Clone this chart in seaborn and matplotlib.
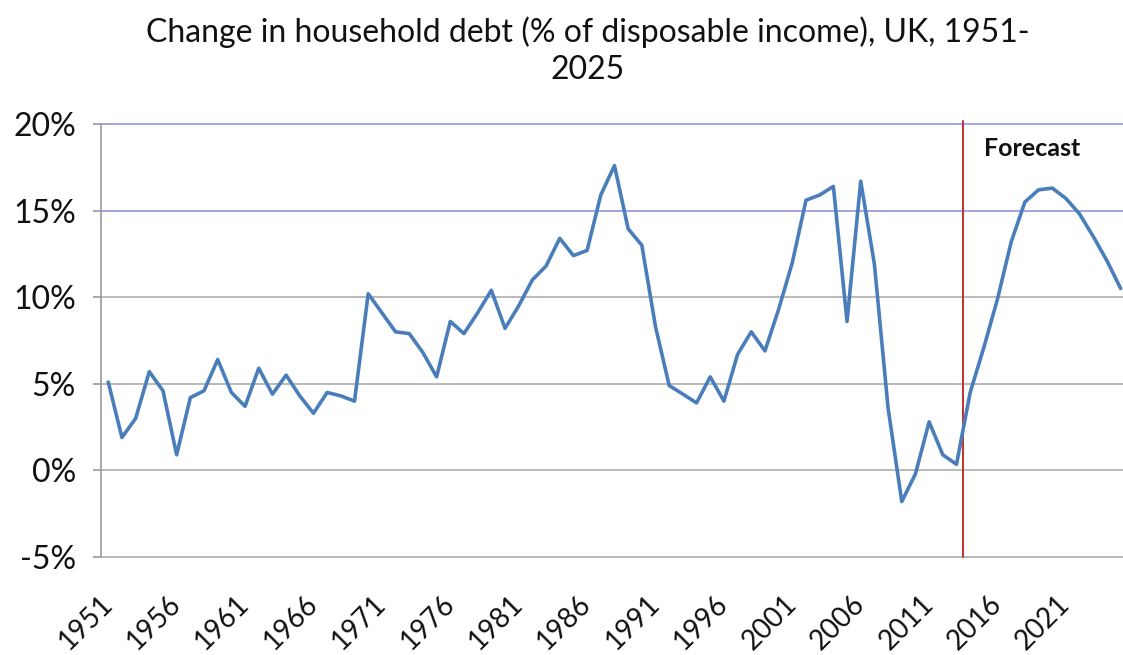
import matplotlib
matplotlib.use("Agg")
import matplotlib.pyplot as plt
import seaborn as sns
import numpy as np
import pandas as pd

years = list(range(1951, 2026))
change_pct = [
    5.1, 1.9, 3.0, 5.7, 4.6, 0.9, 4.2, 4.6, 6.4, 4.5,   # 1951-1960
    3.7, 5.9, 4.4, 5.5, 4.3, 3.3, 4.5, 4.3, 4.0, 10.2,  # 1961-1970
    9.1, 8.0, 7.9, 6.8, 5.4, 8.6, 7.9, 9.1, 10.4, 8.2,  # 1971-1980
    9.5, 11.0, 11.8, 13.4, 12.4, 12.7, 15.9, 17.6, 13.95, 13.0,  # 1981-1990
    8.3, 4.9, 4.4, 3.9, 5.4, 4.0, 6.7, 8.0, 6.9, 9.3,   # 1991-2000
    12.0, 15.6, 15.9, 16.4, 8.6, 16.7, 11.9, 3.6, -1.8, -0.2,  # 2001-2010
    2.8, 0.9, 0.35, 4.5, 7.1, 9.9, 13.2, 15.5, 16.2, 16.3,  # 2011-2020
    15.7, 14.8, 13.5, 12.1, 10.5,  # 2021-2025
]
tick_years = list(range(1951, 2022, 5))
y_ticks = [-5, 0, 5, 10, 15, 20]
forecast_start = 2013.5
title = "Change in household debt (% of disposable income), UK, 1951-\n2025"

df = pd.DataFrame({"year": years, "change": change_pct})

sns.set_theme(style="white")
plt.rcParams["font.family"] = ["Lato", "DejaVu Sans"]

fig = plt.figure(figsize=(11.23, 6.55), dpi=100)
ax = fig.add_axes([101 / 1123, 98 / 655, 1 - 101 / 1123, (557 - 124) / 655])

sns.lineplot(data=df, x="year", y="change", ax=ax, color="#4a7ebb",
             linewidth=2.6, zorder=3)

ax.set_xlim(1950.47, 2025.17)
ax.set_ylim(-5, 20)

grid_colors = {-5: "#b4b4b4", 0: "#b4b4b4", 5: "#b4b4b4", 10: "#b4b4b4",
               15: "#9d9ddb", 20: "#9d9ddb"}
for v in y_ticks:
    ax.axhline(v, color=grid_colors[v], linewidth=1.3, zorder=1, clip_on=False)

ax.axvline(forecast_start, ymin=0, ymax=1.008, color="#c0302e", linewidth=1.4,
           zorder=2, clip_on=False)
ax.text(2015.0, 18.6, "Forecast", fontsize=18, fontweight="bold",
        color="#111111", ha="left", va="center")

ax.set_yticks(y_ticks)
ax.set_yticklabels([f"{v}%" for v in y_ticks], fontsize=23, color="#111111")
ax.set_xticks(tick_years)
ax.set_xticklabels([str(y) for y in tick_years], fontsize=20, color="#111111",
                   rotation=45, ha="right", va="center", rotation_mode="anchor")
ax.tick_params(axis="y", length=6, width=1.2, color="#9a9a9a", pad=12, left=True)
ax.tick_params(axis="x", length=0, pad=31)

for s in ["top", "right", "bottom"]:
    ax.spines[s].set_visible(False)
ax.spines["left"].set_color("#9a9a9a")
ax.spines["left"].set_linewidth(1.2)

ax.set_xlabel("")
ax.set_ylabel("")

fig.text(0.523, 0.975, title, ha="center", va="top", fontsize=23,
         color="#111111", multialignment="center", linespacing=1.3)

fig.savefig("out.png", dpi=100)
